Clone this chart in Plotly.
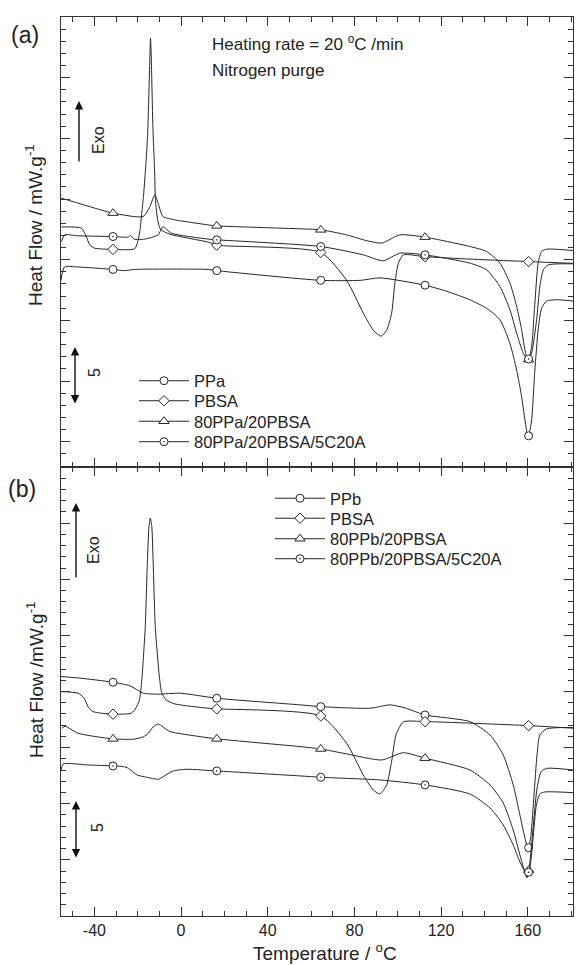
import numpy as np
import plotly.graph_objects as go

# ---------------- data (arbitrary heat-flow units, curves offset) ----------------
MARKER_T = [-31.4, 16.5, 64.5, 112.6, 160.4]

# panel (a)
PPA_T = [-55.4, -53.8, -47.5, -31.4, -26.0, -21.4, 12.5, 16.5, 64.5, 82.6, 91.8, 112.6, 122.6, 133.3, 141.0,
         147.2, 151.8, 154.9, 157.2, 158.7, 160.2, 161.8, 163.3, 164.8, 166.4, 168.7, 173.3, 181.0]
PPA_V = [13.3, 14.4, 14.4, 14.2, 14.1, 14.2, 14.2, 14.1, 13.3, 13.3, 13.5, 12.9, 12.4, 11.7, 11.0,
         10.05, 8.1, 5.9, 3.7, 1.8, 0.3, 1.8, 5.9, 9.2, 11.0, 11.6, 11.7, 11.6]

PBSA_A_T = [-55.2, -46.0, -43.7, -42.1, -39.8, -31.4, -21.4, -19.8, -18.9, -18.2, -17.3, -16.1, -15.4, -14.8,
            -14.4, -14.1, -13.7, -13.4, -12.9, -12.2, -11.8, -10.8, -9.5, -5.1, 12.5, 16.5, 64.5, 76.4, 84.1,
            88.7, 92.3, 94.9, 97.2, 98.7, 100.3, 102.6, 112.6, 133.3, 160.2, 181.0]
PBSA_A_V = [17.7, 17.6, 16.9, 16.2, 15.95, 15.85, 15.9, 16.6, 17.5, 18.7, 20.3, 23.2, 25.4, 29.0,
            31.5, 33.25, 31.5, 29.0, 25.4, 22.4, 19.9, 18.3, 17.5, 17.1, 16.45, 16.2, 15.6, 13.3, 10.6,
            9.2, 8.7, 9.2, 10.6, 13.1, 14.7, 15.4, 15.25, 15.05, 14.85, 14.7]

TRI_A_T = [-55.2, -47.5, -31.4, -17.5, -14.4, -12.1, -10.6, -8.3, -2.9, 12.5, 16.5, 45.7, 64.5, 76.4, 85.0,
           92.6, 101.0, 112.6, 133.3, 141.0, 147.2, 151.8, 154.9, 157.2, 158.7, 160.2, 161.8, 163.3, 164.8,
           166.4, 168.7, 181.0]
TRI_A_V = [20.07, 19.66, 18.84, 18.56, 19.38, 20.35, 19.66, 18.56, 18.29, 17.87, 17.79, 17.60, 17.46, 17.05, 16.6,
           16.37, 17.05, 16.86, 16.09, 15.68, 14.72, 13.07, 11.15, 9.23, 7.58, 6.61, 7.85, 11.43, 14.72,
           15.68, 15.87, 15.76]

C5_A_T = [-55.2, -53.7, -47.5, -31.4, -24.5, -23.2, -21.7, -16.7, -10.6, -8.3, -4.5, 12.5, 16.5, 64.5, 84.1,
          93.3, 101.0, 112.6, 133.3, 141.0, 147.2, 151.8, 154.9, 157.9, 160.2, 161.8, 164.1, 165.6, 167.2,
          169.5, 181.0]
C5_A_V = [16.5, 17.05, 16.97, 16.91, 16.86, 16.99, 16.7, 16.7, 17.05, 17.73, 17.19, 16.7, 16.64, 16.09, 15.4,
          14.91, 15.54, 15.4, 14.72, 14.17, 12.79, 10.87, 8.95, 7.31, 6.75, 7.31, 10.05, 12.79, 14.17,
          14.58, 14.66]

# panel (b)
PPB_T = [-55.4, -47.5, -31.5, -23.5, -17.4, -10.6, -0.5, 16.5, 54.9, 64.5, 87.2, 96.4, 103.3, 112.6, 133.3,
         142.6, 148.7, 153.3, 156.4, 158.7, 160.2, 161.5, 162.9, 164.3, 165.6, 168.7, 181.0]
PPB_V = [21.33, 21.21, 20.83, 20.50, 19.85, 19.76, 19.85, 19.40, 18.81, 18.65, 18.51, 18.81, 18.54, 17.91, 17.32,
         16.13, 14.35, 11.68, 9.0, 6.95, 5.88, 7.22, 10.78, 14.35, 16.13, 16.67, 16.8]

PBSA_B_T = [-55.2, -47.5, -44.8, -42.9, -40.6, -31.5, -22.9, -20.8, -19.2, -18.1, -17.3, -16.5, -15.5, -14.8,
            -14.2, -13.5, -12.9, -11.9, -10.9, -10.0, -8.9, -6.9, -2.8, 12.5, 16.5, 64.5, 76.4, 84.1, 88.7,
            91.8, 94.9, 97.3, 99.2, 102.6, 112.6, 160.2, 181.0]
PBSA_B_V = [19.99, 19.85, 19.43, 18.65, 18.21, 17.98, 18.07, 18.54, 19.25, 21.03, 23.26, 25.78, 31.73, 34.7,
            35.45, 34.7, 31.73, 25.78, 23.26, 21.30, 19.88, 19.25, 18.89, 18.51, 18.45, 17.83, 15.39, 12.57, 11.23,
            10.87, 11.68, 13.9, 16.13, 17.29, 17.32, 16.96, 16.73]

TRI_B_T = [-55.0, -53.5, -47.5, -31.5, -22.0, -17.5, -15.1, -12.9, -10.5, -8.3, -5.1, 8.8, 16.5, 54.9, 64.5,
           76.4, 92.6, 102.6, 112.6, 133.3, 142.6, 148.7, 153.3, 156.4, 158.7, 159.9, 161.0, 162.4, 164.2,
           166.1, 168.7, 181.0]
TRI_B_V = [16.72, 16.9, 16.28, 15.78, 15.75, 15.95, 16.28, 16.84, 17.11, 16.84, 16.43, 15.98, 15.78, 15.09, 14.88,
           14.44, 13.90, 14.55, 14.06, 13.01, 11.68, 10.07, 7.66, 5.44, 3.92, 3.48, 4.81, 7.66, 11.23,
           12.83, 13.15, 13.01]

C5_B_T = [-55.4, -54.3, -43.5, -31.5, -26.6, -24.3, -20.4, -15.8, -10.5, -8.2, -3.6, 2.6, 16.5, 54.9, 64.5,
          91.8, 112.6, 133.3, 142.6, 148.7, 153.3, 156.4, 158.7, 159.6, 161.0, 162.4, 164.0, 165.6, 167.9, 181.0]
C5_B_V = [13.0, 13.55, 13.46, 13.37, 13.31, 13.16, 12.57, 12.36, 12.18, 12.42, 12.92, 13.07, 12.92, 12.48, 12.36,
          12.12, 11.68, 10.87, 9.63, 8.11, 6.33, 4.81, 3.92, 3.39, 4.28, 6.77, 9.89, 10.87, 11.05, 10.99]

NAMES_A = ["PPa", "PBSA", "80PPa/20PBSA", "80PPa/20PBSA/5C20A"]
NAMES_B = ["PPb", "PBSA", "80PPb/20PBSA", "80PPb/20PBSA/5C20A"]
SYMBOLS = ["circle", "diamond", "triangle-up", "circle-dot"]
SIZES = [8, 8, 9, 8]

X_TICKS = [-40, 0, 40, 80, 120, 160]
X_TICKTEXT = ["-40", "0", "40", "80", "120", "160"]

# ---------------- figure ----------------
INK = "#262626"
AX = "#333333"
FONT = "Liberation Sans, Arial, Helvetica, sans-serif"

W, H = 583, 965
ML, MR, MT, MB = 61, 10, 17, 49
PW, PH = W - ML - MR, H - MT - MB

fig = go.Figure()


def add_curve(T, V, name, symbol, size, xa, ya, legend):
    fig.add_trace(go.Scatter(x=T, y=V, mode="lines", xaxis=xa, yaxis=ya, showlegend=False, hoverinfo="skip",
                             line=dict(color=INK, width=1, shape="spline", smoothing=0.6)))
    my = np.interp(MARKER_T, T, V)
    mk = dict(symbol=symbol, size=size, color="white", line=dict(color=INK, width=1))
    fig.add_trace(go.Scatter(x=MARKER_T, y=my, mode="markers", xaxis=xa, yaxis=ya, showlegend=False,
                             hoverinfo="skip", marker=mk))
    fig.add_trace(go.Scatter(x=[None], y=[None], mode="lines+markers", name=name, xaxis=xa, yaxis=ya,
                             legend=legend, line=dict(color=INK, width=1), marker=mk))


curves_a = [(PPA_T, PPA_V), (PBSA_A_T, PBSA_A_V), (TRI_A_T, TRI_A_V), (C5_A_T, C5_A_V)]
curves_b = [(PPB_T, PPB_V), (PBSA_B_T, PBSA_B_V), (TRI_B_T, TRI_B_V), (C5_B_T, C5_B_V)]
legend_ids = ["legend"] + ["legend%d" % i for i in range(2, 9)]
for i, ((T, V), n, s, z) in enumerate(zip(curves_a, NAMES_A, SYMBOLS, SIZES)):
    add_curve(T, V, n, s, z, "x2", "y2", legend_ids[i])
for i, ((T, V), n, s, z) in enumerate(zip(curves_b, NAMES_B, SYMBOLS, SIZES)):
    add_curve(T, V, n, s, z, "x", "y", legend_ids[4 + i])

xcommon = dict(range=[-55.4, 180.9], tickmode="array", tickvals=X_TICKS, ticktext=X_TICKTEXT,
               ticks="inside", ticklen=9, tickwidth=1, tickcolor=AX, showline=True, linecolor=AX, linewidth=1,
               mirror="allticks", showgrid=False, zeroline=False,
               minor=dict(dtick=10, tick0=0, ticks="inside", ticklen=5, tickwidth=1, tickcolor=AX, showgrid=False),
               tickfont=dict(size=16, color="#222", family=FONT))
ycommon = dict(dtick=5, tick0=0, ticks="inside", ticklen=9, tickwidth=1, tickcolor=AX, showline=True,
               linecolor=AX, linewidth=1, mirror="allticks", showgrid=False, zeroline=False,
               showticklabels=False,
               minor=dict(dtick=1, tick0=0, ticks="inside", ticklen=5, tickwidth=1, tickcolor=AX, showgrid=False))


def px2paper(px, py):
    return (px - ML) / PW, (H - MB - py) / PH


split = 449 / PH
layout = dict(
    width=W, height=H, margin=dict(l=ML, r=MR, t=MT, b=MB),
    paper_bgcolor="white", plot_bgcolor="white",
    font=dict(family=FONT, color="#222", size=16),
    xaxis=dict(**xcommon, anchor="y", domain=[0, 1]),
    yaxis=dict(**ycommon, range=[0, 40], domain=[0, split], anchor="x"),
    xaxis2=dict(**xcommon, anchor="y2", domain=[0, 1]),
    yaxis2=dict(**ycommon, range=[-2.08, 35], domain=[split, 1], anchor="x2"),
    showlegend=True,
)
# one single-entry legend per row, so that rows sit where the reference puts them
rows = [(134, 381), (134, 401), (134, 421.5), (134, 442),
        (270, 498.5), (270, 518.5), (270, 539), (270, 559)]
for lid, (lx, ly) in zip(legend_ids, rows):
    x, y = px2paper(lx, ly)
    layout[lid] = dict(x=x, y=y, xanchor="left", yanchor="middle", bgcolor="rgba(0,0,0,0)",
                       itemwidth=50, font=dict(size=16.5, family=FONT, color="#222"), tracegroupgap=0)
fig.update_layout(**layout)
fig.update_xaxes(showticklabels=False, selector=dict(anchor="y2"))

anns = []


def text(px, py, s, size=16, angle=0, xanchor="center"):
    x, y = px2paper(px, py)
    anns.append(dict(x=x, y=y, xref="paper", yref="paper", text=s, showarrow=False, textangle=angle,
                     xanchor=xanchor, yanchor="middle", font=dict(size=size, family=FONT, color="#222")))


def arrow(px, py_tip, length, both=False):
    x, y = px2paper(px, py_tip)
    anns.append(dict(x=x, y=y, xref="paper", yref="paper", ax=0, ay=length, text="", showarrow=True,
                     arrowhead=2, arrowsize=1.2, arrowwidth=1.4, arrowcolor="#111",
                     arrowside="end+start" if both else "end", startarrowhead=2, startarrowsize=1.2))


text(25, 35, "(a)", size=23)
text(21.7, 489, "(b)", size=23)
text(210, 43, "Heating rate = 20 <sup>o</sup>C /min", size=17, xanchor="left")
text(210, 71, "Nitrogen purge", size=17, xanchor="left")
text(34, 225, "Heat Flow / mW.g<sup>-1</sup>", size=19, angle=-90)
text(35, 680, "Heat Flow /mW.g<sup>-1</sup>", size=19, angle=-90)
text(325, 952, "Temperature / <sup>o</sup>C", size=19)
text(98, 140, "Exo", size=16, angle=-90)
text(93, 550, "Exo", size=16, angle=-90)
text(94, 373, "5", size=16, angle=-90)
text(97, 828, "5", size=16, angle=-90)
arrow(79, 101, 62)
arrow(76, 503, 76)
arrow(75, 347, 58, both=True)
arrow(76, 801, 58, both=True)
fig.update_layout(annotations=anns)

fig.write_html("out.html")
